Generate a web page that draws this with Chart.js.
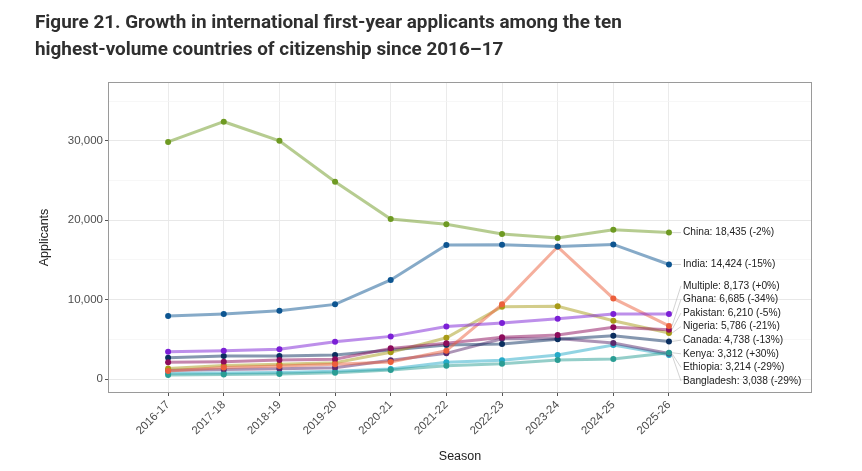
<!DOCTYPE html>
<html>
<head>
<meta charset="utf-8">
<script src="https://cdn.jsdelivr.net/npm/chart.js@4.4.1/dist/chart.umd.min.js"></script>
<style>
  html, body { margin: 0; padding: 0; background: #fff; }
  #wrap { position: relative; width: 862px; height: 471px; }
  #title {
    position: absolute; left: 35px; top: 8px;
    font-family: Roboto, "Liberation Sans", sans-serif;
    font-weight: 700; font-size: 18.9px; line-height: 27px; color: #2f2f2f;
  }
  canvas { position: absolute; left: 0; top: 0; }
</style>
</head>
<body>
<div id="wrap">
  <canvas id="chart" width="862" height="471"></canvas>
  <div id="title">Figure 21. Growth in international first-year applicants among the ten<br>highest-volume countries of citizenship since 2016–17</div>
</div>
<script>
// seasons on the x axis
const seasons = ['2016-17', '2017-18', '2018-19', '2019-20', '2020-21', '2021-22', '2022-23', '2023-24', '2024-25', '2025-26'];

// applicants per country
const china      = [29850, 32400, 30000, 24850, 20150, 19500, 18250, 17750, 18800, 18435];
const india      = [7930, 8190, 8600, 9400, 12470, 16880, 16920, 16700, 16950, 14424];
const multiple   = [3420, 3560, 3740, 4680, 5370, 6620, 7050, 7600, 8190, 8173];
const ghana      = [1000, 1450, 1650, 1850, 2150, 3570, 9400, 16650, 10150, 6685];
const pakistan   = [2100, 2180, 2390, 2480, 3860, 4490, 5250, 5540, 6510, 6210];
const nigeria    = [1330, 1700, 1850, 2050, 3360, 5200, 9100, 9150, 7340, 5786];
const canada     = [2690, 2900, 2900, 3020, 3650, 4280, 4410, 5000, 5450, 4738];
const kenya      = [520, 560, 620, 780, 1150, 1680, 1930, 2390, 2520, 3312];
const ethiopia   = [1100, 1200, 1300, 1420, 2350, 3230, 5080, 5100, 4530, 3214];
const bangladesh = [720, 760, 820, 980, 1250, 2100, 2350, 3020, 4280, 3038];

const countries = ['China', 'India', 'Multiple', 'Ghana', 'Pakistan', 'Nigeria', 'Canada', 'Kenya', 'Ethiopia', 'Bangladesh'];
const series = [china, india, multiple, ghana, pakistan, nigeria, canada, kenya, ethiopia, bangladesh];
const pctChange = ['-2%', '-15%', '+0%', '-34%', '-5%', '-21%', '-13%', '+30%', '-29%', '-29%'];
const colors = ['#6e9a22', '#0d5591', '#7b1fd6', '#ec5f3c', '#8c0b5c', '#a89b17', '#0b2f5f', '#2a9d94', '#5a2a6e', '#25aac8'];

// y ticks every 5,000, labelled every 10,000
const yTicks = [0, 5000, 10000, 15000, 20000, 25000, 30000, 35000];

function fade(hex, a) {
    const n = parseInt(hex.slice(1), 16);
    return `rgba(${n >> 16},${(n >> 8) & 255},${n & 255},${a})`;
}

// grey panel border like ggplot's theme_bw
const frame = {
    id: 'frame',
    beforeDatasetsDraw(chart) {
        const {ctx, chartArea: a} = chart;
        ctx.save();
        ctx.strokeStyle = '#9a9a9a';
        ctx.lineWidth = 1;
        ctx.strokeRect(a.left + 0.5, a.top + 0.5, a.right - a.left - 1, a.bottom - a.top - 1);
        ctx.restore();
    }
};

// end labels, pushed apart like ggrepel
const endLabels = {
    id: 'endLabels',
    afterDatasetsDraw(chart) {
        const {ctx, chartArea: area} = chart;
        const gap = 13.6;
        const items = chart.data.datasets.map((ds, i) => {
            const meta = chart.getDatasetMeta(i);
            const pt = meta.data[meta.data.length - 1];
            const last = series[i][series[i].length - 1];
            return {x: pt.x, y: pt.y, text: `${countries[i]}: ${last.toLocaleString('en-US')} (${pctChange[i]})`};
        }).sort((a, b) => a.y - b.y);

        let groups = items.map(it => ({members: [it], center: it.y}));
        let merged = true;
        while (merged) {
            merged = false;
            for (let k = 0; k < groups.length - 1; k++) {
                const a = groups[k], b = groups[k + 1];
                const aBottom = a.center + (a.members.length - 1) * gap / 2;
                const bTop = b.center - (b.members.length - 1) * gap / 2;
                if (bTop - aBottom < gap) {
                    const members = a.members.concat(b.members);
                    const center = members.reduce((s, m) => s + m.y, 0) / members.length;
                    groups.splice(k, 2, {members, center});
                    merged = true;
                    break;
                }
            }
        }

        ctx.save();
        ctx.font = '10.2px "Liberation Sans", Arial, sans-serif';
        ctx.textBaseline = 'middle';
        groups.forEach(g => {
            const half = (g.members.length - 1) * gap / 2;
            const maxBottom = area.bottom - 12;
            if (g.center + half > maxBottom) g.center = maxBottom - half;
            g.members.forEach((m, j) => {
                const ly = g.center - half + j * gap;
                const lx = m.x + 14;
                ctx.strokeStyle = '#b5b5b5';
                ctx.lineWidth = 0.6;
                ctx.beginPath();
                ctx.moveTo(m.x + 3, m.y);
                ctx.lineTo(lx - 2, ly);
                ctx.stroke();
                ctx.fillStyle = '#222';
                ctx.fillText(m.text, lx, ly);
            });
        });
        ctx.restore();
    }
};

const axisFont = {family: '"Liberation Sans", Arial, sans-serif', size: 11.5};

new Chart(document.getElementById('chart'), {
    type: 'line',
    data: {
        datasets: series.map((vals, i) => ({
            label: countries[i],
            data: vals.map((v, k) => ({x: k, y: v})),
            borderColor: fade(colors[i], 0.5),
            backgroundColor: colors[i],
            pointBackgroundColor: colors[i],
            pointBorderWidth: 0,
            pointRadius: 3,
            borderWidth: 3,
            tension: 0,
            fill: false
        }))
    },
    options: {
        responsive: false,
        animation: false,
        layout: {padding: {left: 35, top: 82, right: 50, bottom: 5}},
        plugins: {
            legend: {display: false},
            tooltip: {enabled: false}
        },
        scales: {
            x: {
                type: 'linear',
                min: -1.08,
                max: 11.57,
                afterBuildTicks: scale => { scale.ticks = seasons.map((s, i) => ({value: i})); },
                afterFit: scale => { scale.height = 73; },
                border: {display: false},
                grid: {color: '#ebebeb', lineWidth: 1, tickColor: '#555', tickLength: 3},
                ticks: {
                    autoSkip: false,
                    minRotation: 45,
                    maxRotation: 45,
                    padding: 2,
                    color: '#4d4d4d',
                    font: axisFont,
                    callback: v => seasons[v] ?? ''
                },
                title: {display: true, text: 'Season', color: '#222', font: {family: axisFont.family, size: 12.5}, padding: {top: 4, bottom: 2}}
            },
            y: {
                min: -1760,
                max: 37400,
                afterBuildTicks: scale => { scale.ticks = yTicks.map(v => ({value: v})); },
                afterFit: scale => { scale.width = 73; },
                border: {display: false},
                grid: {
                    color: c => (c.tick && c.tick.value % 10000 === 0) ? '#e8e8e8' : '#f3f3f3',
                    lineWidth: c => (c.tick && c.tick.value % 10000 === 0) ? 1 : 0.7,
                    tickColor: c => (c.tick && c.tick.value % 10000 === 0) ? '#555' : 'rgba(0,0,0,0)',
                    tickLength: 3
                },
                ticks: {
                    padding: 2,
                    color: '#4d4d4d',
                    font: axisFont,
                    callback: v => v % 10000 === 0 ? v.toLocaleString('en-US') : ''
                },
                title: {display: true, text: 'Applicants', color: '#222', font: {family: axisFont.family, size: 12.5}, padding: {top: 2, bottom: 4}}
            }
        }
    },
    plugins: [frame, endLabels]
});
</script>
</body>
</html>
